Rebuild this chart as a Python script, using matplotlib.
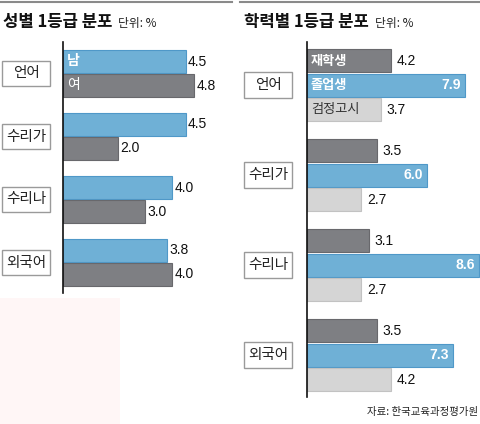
import matplotlib
matplotlib.use("Agg")
import matplotlib.pyplot as plt
from matplotlib.patches import Rectangle
import numpy as np

plt.rcParams['font.family'] = ['Noto Sans CJK KR', 'DejaVu Sans']

# data
subjects = ["언어", "수리가", "수리나", "외국어"]
gender_names = ["남", "여"]
male = [4.5, 4.5, 4.0, 3.8]
female = [4.8, 2.0, 3.0, 4.0]

school_names = ["재학생", "졸업생", "검정고시"]
enrolled = [4.2, 3.5, 3.1, 3.5]
graduate = [7.9, 6.0, 8.6, 7.3]
ged = [3.7, 2.7, 2.7, 4.2]

BLUE = "#6fb0d6"
BLUE_E = "#4f98c8"
GRAY = "#7e7f83"
GRAY_E = "#68686c"
LGRAY = "#d5d5d5"
LGRAY_E = "#c2c2c2"
NUM_FONT = ['Liberation Sans Narrow', 'Liberation Sans', 'DejaVu Sans']

W, H = 480, 424
fig = plt.figure(figsize=(W / 100, H / 100), dpi=100)
fig.patch.set_facecolor("white")


def px_axes(x0, y0, x1, y1):
    # pixel box (top-left origin) -> axes
    return fig.add_axes([x0 / W, 1 - y1 / H, (x1 - x0) / W, (y1 - y0) / H])


# faint pink block at lower left
fig.add_artist(Rectangle((0, 0), 120 / W, 126 / H, transform=fig.transFigure,
                         facecolor="#fff6f6", edgecolor="none", zorder=0))

# top rules
fig.add_artist(plt.Line2D([0, 232 / W], [1 - 2 / H, 1 - 2 / H], color="#8a8a8a", lw=1.5))
fig.add_artist(plt.Line2D([240 / W, 1], [1 - 2 / H, 1 - 2 / H], color="#8a8a8a", lw=1.5))

# titles
fig.text(3 / W, 1 - 22 / H, "성별 1등급 분포", fontsize=12, fontweight="bold", va="center", color="#111")
fig.text(118 / W, 1 - 23 / H, "단위: %", fontsize=8.5, va="center", color="#222")
fig.text(244 / W, 1 - 22 / H, "학력별 1등급 분포", fontsize=12, fontweight="bold", va="center", color="#111")
fig.text(375 / W, 1 - 23 / H, "단위: %", fontsize=8.5, va="center", color="#222")
fig.text(478 / W, 1 - 412 / H, "자료: 한국교육과정평가원", fontsize=7.5, ha="right", va="center", color="#222")


def style_axes(ax):
    for s in ["top", "right", "bottom"]:
        ax.spines[s].set_visible(False)
    ax.spines["left"].set_color("#111")
    ax.spines["left"].set_linewidth(1.2)
    ax.set_xticks([])
    ax.set_yticks([])
    ax.patch.set_alpha(0)


def cat_boxes(ax, centers, bx0, bx1, bh):
    tr = ax.get_yaxis_transform()
    for c, name in zip(centers, subjects):
        ax.add_patch(Rectangle((bx0, c - bh / 2), bx1 - bx0, bh, transform=tr,
                               facecolor="white", edgecolor="#9a9a9a", lw=1, clip_on=False))
        ax.text((bx0 + bx1) / 2, c, name, transform=tr, ha="center", va="center",
                fontsize=10.5, color="#222", clip_on=False)


# left panel: gender
axL = px_axes(63, 42, 232, 293)
style_axes(axL)
axL.set_xlim(0, 169 / 27.3)
axL.set_ylim(251 / 63, 0)
cL = np.arange(len(subjects)) + 0.5
off, hL = 12 / 63, 23 / 63
axL.barh(cL - off, male, height=hL, color=BLUE, edgecolor=BLUE_E, lw=0.8)
axL.barh(cL + off, female, height=hL, color=GRAY, edgecolor=GRAY_E, lw=0.8)
for c, v in zip(cL - off, male):
    axL.text(v + 0.08, c, f"{v:.1f}", va="center", fontsize=10, family=NUM_FONT, color="#111")
for c, v in zip(cL + off, female):
    axL.text(v + 0.08, c, f"{v:.1f}", va="center", fontsize=10, family=NUM_FONT, color="#111")
axL.text(0.15, cL[0] - off, gender_names[0], va="center", fontsize=10, fontweight="bold", color="white")
axL.text(0.15, cL[0] + off, gender_names[1], va="center", fontsize=10, color="white")
cat_boxes(axL, cL, -0.361, -0.077, 25 / 63)

# right panel: school status
axR = px_axes(307, 42, 480, 397)
style_axes(axR)
axR.set_xlim(0, 173 / 19.95)
axR.set_ylim(355 / 90, 0)
cR = np.arange(len(subjects)) + 0.48
step, hR = 24.5 / 90, 23 / 90
axR.barh(cR - step, enrolled, height=hR, color=GRAY, edgecolor=GRAY_E, lw=0.8)
axR.barh(cR, graduate, height=hR, color=BLUE, edgecolor=BLUE_E, lw=0.8)
axR.barh(cR + step, ged, height=hR, color=LGRAY, edgecolor=LGRAY_E, lw=0.8)
for c, v in zip(cR - step, enrolled):
    axR.text(v + 0.3, c, f"{v:.1f}", va="center", fontsize=10, family=NUM_FONT, color="#111")
for c, v in zip(cR, graduate):
    axR.text(v - 0.18, c, f"{v:.1f}", va="center", ha="right", fontsize=10,
             family=NUM_FONT, color="white", fontweight="bold")
for c, v in zip(cR + step, ged):
    axR.text(v + 0.3, c, f"{v:.1f}", va="center", fontsize=10, family=NUM_FONT, color="#111")
axR.text(0.2, cR[0] - step, school_names[0], va="center", fontsize=9.5, fontweight="bold", color="white")
axR.text(0.2, cR[0], school_names[1], va="center", fontsize=9.5, fontweight="bold", color="white")
axR.text(0.2, cR[0] + step, school_names[2], va="center", fontsize=9.5, color="#333")
cat_boxes(axR, cR, -0.364, -0.087, 26 / 90)

fig.savefig("out.png", dpi=100, facecolor="white")
